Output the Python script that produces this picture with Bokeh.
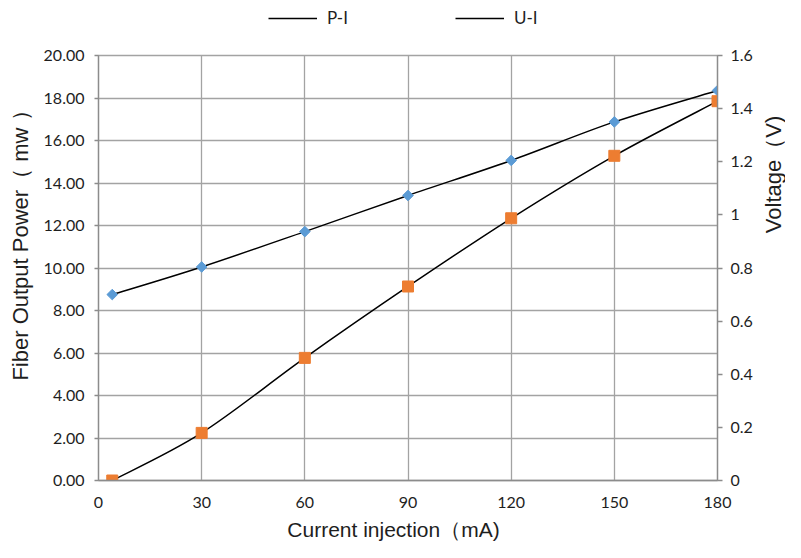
import math
from bokeh.plotting import figure
from bokeh.layouts import column, row
from bokeh.models import (Range1d, LinearAxis, FixedTicker, NumeralTickFormatter,
                          Legend, LegendItem, Label)
from bokeh.embed import file_html
from bokeh.resources import INLINE

# ---- data ----
current = [4, 30, 60, 90, 120, 150, 180]                    # mA
power = [0.0, 2.24, 5.77, 9.13, 12.34, 15.28, 17.85]        # mW  (P-I, left axis)
voltage = [0.70, 0.804, 0.937, 1.073, 1.205, 1.350, 1.468]  # V   (U-I, right axis)
x_ticks = [0, 30, 60, 90, 120, 150, 180]
power_ticks = [0, 2, 4, 6, 8, 10, 12, 14, 16, 18, 20]
volt_ticks = [0, 0.2, 0.4, 0.6, 0.8, 1.0, 1.2, 1.4, 1.6]
series_names = ["P-I", "U-I"]
x_title = "Current injection（mA)"
y_title = "Fiber Output Power（ mw ）"
y2_title = "Voltage（V)"

ORANGE = "#ED7D31"
BLUE = "#5B9BD5"
GRID = "#a3a3a3"
AXIS = "#8c8c8c"
TXT = "#1e1e1e"
TICK_FONT = "Lato"
TITLE_FONT = "Liberation Sans"

TOTAL_W, TOTAL_H = 785, 542
TOP_H, BOTTOM_H = 30, 26
LEFT_W, RIGHT_W = 36, 28
MID_H = TOTAL_H - TOP_H - BOTTOM_H
MAIN_W = TOTAL_W - LEFT_W - RIGHT_W


def smooth_segments(xs, ys, t=1.0 / 6.0):
    """Cubic Bezier control points (Catmull-Rom style smoothing) from the data."""
    n = len(xs)
    seg = dict(x0=[], y0=[], x1=[], y1=[], cx0=[], cy0=[], cx1=[], cy1=[])
    for i in range(n - 1):
        ip = i - 1 if i > 0 else i
        inx = i + 2 if i + 2 < n else i + 1
        seg["x0"].append(xs[i]); seg["y0"].append(ys[i])
        seg["x1"].append(xs[i + 1]); seg["y1"].append(ys[i + 1])
        seg["cx0"].append(xs[i] + (xs[i + 1] - xs[ip]) * t)
        seg["cy0"].append(ys[i] + (ys[i + 1] - ys[ip]) * t)
        seg["cx1"].append(xs[i + 1] - (xs[inx] - xs[i]) * t)
        seg["cy1"].append(ys[i + 1] - (ys[inx] - ys[i]) * t)
    return seg


def blank(w, h, x_range=None, y_range=None):
    f = figure(width=w, height=h,
               x_range=x_range if x_range is not None else Range1d(0, w),
               y_range=y_range if y_range is not None else Range1d(0, h),
               x_axis_type=None, y_axis_type=None, output_backend="svg",
               toolbar_location=None, min_border=0)
    f.outline_line_color = None
    f.background_fill_color = "white"
    f.border_fill_color = "white"
    return f


# ---------------- main chart ----------------
p = figure(width=MAIN_W, height=MID_H, x_range=Range1d(0, 180), y_range=Range1d(0, 20),
           output_backend="svg", toolbar_location=None,
           min_border_left=62, min_border_right=40, min_border_top=25, min_border_bottom=36)
p.extra_y_ranges = {"v": Range1d(0, 1.6)}
p.background_fill_color = "white"
p.border_fill_color = "white"
p.outline_line_color = GRID
p.outline_line_width = 1.3

xa = p.xaxis[0]
xa.ticker = FixedTicker(ticks=x_ticks)
ya = p.yaxis[0]
ya.ticker = FixedTicker(ticks=power_ticks)
ya.formatter = NumeralTickFormatter(format="0.00")
ra = LinearAxis(y_range_name="v", ticker=FixedTicker(ticks=volt_ticks),
                formatter=NumeralTickFormatter(format="0.[0]"))
p.add_layout(ra, "right")

for ax in (xa, ya, ra):
    ax.axis_line_color = AXIS
    ax.axis_line_width = 1.3
    ax.major_tick_line_color = AXIS
    ax.major_tick_line_width = 1.3
    ax.minor_tick_line_color = None
    ax.major_tick_in = 0
    ax.major_label_text_font = TICK_FONT
    ax.major_label_text_font_size = "16px"
    ax.major_label_text_color = TXT
xa.major_tick_out = 0
xa.major_label_standoff = 16
ya.major_tick_out = 4
ya.major_label_standoff = 10
ra.major_tick_out = 5
ra.major_label_standoff = 8

p.xgrid.ticker = FixedTicker(ticks=x_ticks)
p.ygrid.ticker = FixedTicker(ticks=power_ticks)
for g in (p.xgrid[0], p.ygrid[0]):
    g.grid_line_color = GRID
    g.grid_line_width = 1.3

pi_seg = smooth_segments(current, power)
ui_seg = smooth_segments(current, voltage)
p.bezier(source=pi_seg, x0="x0", y0="y0", x1="x1", y1="y1", cx0="cx0", cy0="cy0",
         cx1="cx1", cy1="cy1", line_color="black", line_width=1.5)
p.bezier(source=ui_seg, x0="x0", y0="y0", x1="x1", y1="y1", cx0="cx0", cy0="cy0",
         cx1="cx1", cy1="cy1", line_color="black", line_width=1.5, y_range_name="v")

p.scatter(current, voltage, marker="square", angle=math.pi / 4, size=7.5,
          fill_color=BLUE, line_color=BLUE, y_range_name="v")
p.scatter(current, power, marker="square", size=11, fill_color=ORANGE, line_color=ORANGE)

# ---------------- legend strip (top) ----------------
# the strip's ranges lie outside the data, so its line renderers only feed the legend
top = blank(TOTAL_W, TOP_H, x_range=Range1d(-2, -1), y_range=Range1d(-2, -1))
k1 = top.line(current, power, line_color="black", line_width=1.3)
k2 = top.line(current, voltage, line_color="black", line_width=1.3)
legend = Legend(items=[LegendItem(label=series_names[0], renderers=[k1]),
                       LegendItem(label=series_names[1], renderers=[k2])],
                location=(268, 2), orientation="horizontal", padding=0, margin=0,
                spacing=20, glyph_width=49, glyph_height=20, label_standoff=10,
                label_width=108, background_fill_alpha=0, border_line_alpha=0,
                label_text_font=TICK_FONT, label_text_font_size="17px",
                label_text_color=TXT)
top.add_layout(legend, "center")

# ---------------- axis titles ----------------
left = blank(LEFT_W, MID_H)
left.add_layout(Label(x=20, y=275, text=y_title, angle=math.pi / 2,
                      text_align="center", text_baseline="middle",
                      text_font=TITLE_FONT, text_font_size="22px", text_color=TXT))

right = blank(RIGHT_W, MID_H)
right.add_layout(Label(x=16, y=350, text=y2_title, angle=math.pi / 2,
                       text_align="center", text_baseline="middle",
                       text_font=TITLE_FONT, text_font_size="22px", text_color=TXT))

bottom = blank(TOTAL_W, BOTTOM_H)
bottom.add_layout(Label(x=393, y=13, text=x_title,
                        text_align="center", text_baseline="middle",
                        text_font=TITLE_FONT, text_font_size="21px", text_color=TXT))

layout = column(top, row(left, p, right), bottom)
open("out.html", "w").write(file_html(layout, INLINE))
